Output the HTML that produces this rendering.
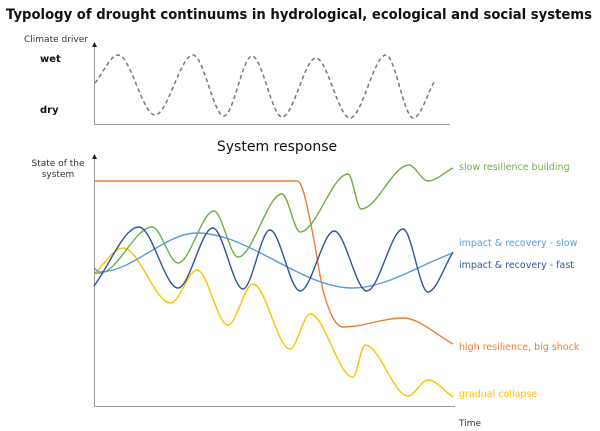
<!DOCTYPE html>
<html><head><meta charset="utf-8"><style>
body{margin:0;background:#fff;}
svg{display:block;font-family:"DejaVu Sans","Liberation Sans",sans-serif;}
</style></head><body>
<svg id="c" width="600" height="431" viewBox="0 0 600 431">
<text x="6" y="19" font-size="14" font-weight="bold" fill="#111" textLength="586" lengthAdjust="spacingAndGlyphs">Typology of drought continuums in hydrological, ecological and social systems</text>
<text x="24" y="42" font-size="9" fill="#333">Climate driver</text>
<text x="40" y="62" font-size="10" font-weight="bold" fill="#111">wet</text>
<text x="40" y="113" font-size="10" font-weight="bold" fill="#111">dry</text>
<text x="277" y="151" text-anchor="middle" font-size="14" fill="#111">System response</text>
<text x="58" y="166" text-anchor="middle" font-size="9" fill="#333">State of the</text>
<text x="58" y="177" text-anchor="middle" font-size="9" fill="#333">system</text>
<text x="459" y="426" font-size="9" fill="#333">Time</text>
<g>
<line x1="94.5" y1="46" x2="94.5" y2="124.5" stroke="#999" stroke-width="1"/>
<line x1="94" y1="124.5" x2="450" y2="124.5" stroke="#999" stroke-width="1"/>
<path d="M94.5 42 L92 47 L97 47 Z" fill="#222"/>
</g>
<g>
<line x1="94.5" y1="158" x2="94.5" y2="406.5" stroke="#999" stroke-width="1"/>
<line x1="94" y1="406.5" x2="455" y2="406.5" stroke="#999" stroke-width="1"/>
<path d="M94.5 154 L92 159 L97 159 Z" fill="#222"/>
</g>
<g id="series"></g>
<text x="459" y="170" font-size="9.5" fill="#6fb04a">slow resilience building</text>
<text x="459" y="246" font-size="9.5" fill="#5b9bd5">impact &amp; recovery - slow</text>
<text x="459" y="268" font-size="9.5" fill="#2f5597">impact &amp; recovery - fast</text>
<text x="459" y="350" font-size="9.5" fill="#ed7d31">high resilience, big shock</text>
<text x="459" y="397" font-size="9.5" fill="#ffc000">gradual collapse</text>
</svg>
<script>
const climateT=[0.3,6.7,17,27.6,36.2,44,52.4,61.8,71.3,81.3,88.9,95];
const climateV=[55.6,100,4.8,100,3.2,98.4,1.6,95.2,0,100,0,60.3];
const greenT=[0,1.7,16.2,23.4,33.4,40.1,52.4,57.4,70.8,74.4,87.7,93,100];
const greenV=[53.2,53.2,71.6,57.2,78,59.6,84.8,69.6,92.8,78.8,96.4,90,95.2];
const fastT=[0,12.5,23.4,33.1,41.5,49,57.4,66.9,76,86.1,93,100];
const fastV=[48,71.6,47.2,71.2,46.8,70.4,46,70,46,70.8,45.6,61.6];
const slowT=[0,1.7,28.7,72.1,100];
const slowV=[55.2,53.6,69.2,47.2,61.2];
const orangeT=[0,56.5,58.2,61,63.8,66.6,69.4,86.1,100];
const orangeV=[90,90,86.4,68.4,46.4,35.2,31.6,35.2,24.8];
const yellowT=[0,8.1,21.4,28.7,37.3,44.3,54.6,60.2,72.1,75.5,87.5,93,100];
const yellowV=[52.8,63.2,41.2,54.4,32.4,48.8,22.8,36.8,11.6,24.4,4,10.4,3.6];

function xS(t){return 94+t*3.59;}
function yTop(v){return 118-v*0.63;}
function yBot(v){return 406-v*2.5;}

function monoPath(T,V,ys){
  const xs=T.map(xS), yv=V.map(ys), n=xs.length;
  const d=[],m=new Array(n);
  for(let i=0;i<n-1;i++)d.push((yv[i+1]-yv[i])/(xs[i+1]-xs[i]));
  m[0]=d[0];m[n-1]=d[n-2];
  for(let i=1;i<n-1;i++){m[i]=(d[i-1]*d[i]<=0)?0:(d[i-1]+d[i])/2;}
  for(let i=0;i<n-1;i++){
    if(d[i]===0){m[i]=0;m[i+1]=0;continue;}
    const a=m[i]/d[i],b=m[i+1]/d[i],s=a*a+b*b;
    if(s>9){const t=3/Math.sqrt(s);m[i]=t*a*d[i];m[i+1]=t*b*d[i];}
  }
  let p='M'+xs[0].toFixed(1)+' '+yv[0].toFixed(1);
  for(let i=0;i<n-1;i++){
    const h=(xs[i+1]-xs[i])/3;
    p+=' C'+(xs[i]+h).toFixed(1)+' '+(yv[i]+m[i]*h).toFixed(1)+' '+(xs[i+1]-h).toFixed(1)+' '+(yv[i+1]-m[i+1]*h).toFixed(1)+' '+xs[i+1].toFixed(1)+' '+yv[i+1].toFixed(1);
  }
  return p;
}
const g=document.getElementById('series');
function add(T,V,ys,color,name,dash){
  const p=document.createElementNS('http://www.w3.org/2000/svg','path');
  p.setAttribute('d',monoPath(T,V,ys));
  p.setAttribute('fill','none');
  p.setAttribute('stroke',color);
  p.setAttribute('stroke-width',dash?'1.5':'1.4');
  if(dash)p.setAttribute('stroke-dasharray','4 3');
  
  
  g.appendChild(p);
}
add(climateT,climateV,yTop,'#777','climate-driver-line',true);
add(orangeT,orangeV,yBot,'#ed7d31','high-resilience-line',false);
add(yellowT,yellowV,yBot,'#ffc000','gradual-collapse-line',false);
add(greenT,greenV,yBot,'#70ad47','slow-resilience-line',false);
add(slowT,slowV,yBot,'#5b9bd5','impact-recovery-slow-line',false);
add(fastT,fastV,yBot,'#2f5597','impact-recovery-fast-line',false);
</script>
</body></html>
